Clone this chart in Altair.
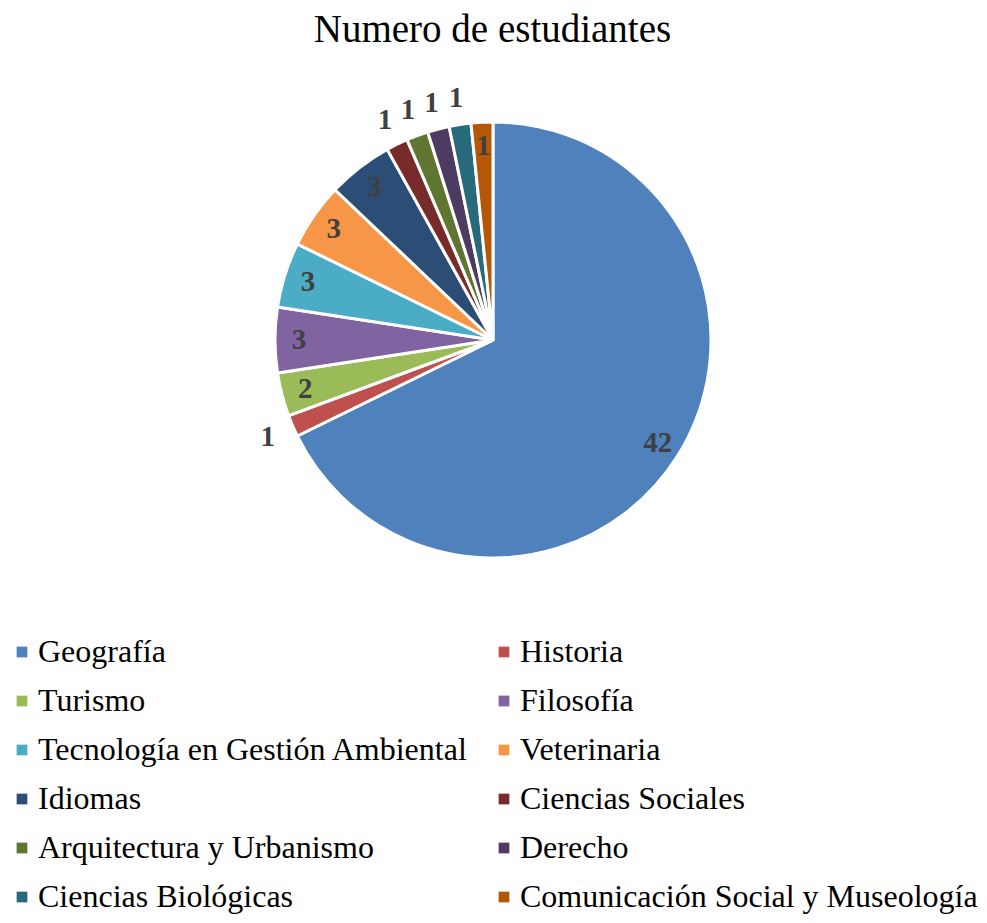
import json
import altair as alt
import pandas as pd

categories = [
    "Geografía", "Historia", "Turismo", "Filosofía",
    "Tecnología en Gestión Ambiental", "Veterinaria", "Idiomas",
    "Ciencias Sociales", "Arquitectura y Urbanismo", "Derecho",
    "Ciencias Biológicas", "Comunicación Social y Museología",
]
values = [42, 1, 2, 3, 3, 3, 3, 1, 1, 1, 1, 1]
colors = [
    "#4F81BD", "#C0504D", "#9BBB59", "#8064A2", "#4BACC6", "#F79646",
    "#2C4D75", "#772C2A", "#5F7530", "#4D3B62", "#276A7C", "#B65708",
]
# slices whose value label sits outside the pie
outside_labels = ["Historia", "Ciencias Sociales", "Arquitectura y Urbanismo",
                  "Derecho", "Ciencias Biológicas"]

df = pd.DataFrame({"Carrera": categories, "Estudiantes": values,
                   "orden": list(range(len(categories)))})

CX, CY = 485, 272
SERIF = "Liberation Serif"
out_arr = json.dumps(outside_labels, ensure_ascii=False)

base = alt.Chart(df).encode(
    theta=alt.Theta("Estudiantes:Q", stack=True),
    order=alt.Order("orden:Q", sort="ascending"),
    x=alt.value(CX),
    y=alt.value(CY),
)

pie = base.mark_arc(radius=218, stroke="white", strokeWidth=3).encode(
    color=alt.Color(
        "Carrera:N",
        sort=categories,
        scale=alt.Scale(domain=categories, range=colors),
        legend=alt.Legend(
            title=None, orient="none", legendX=-2, legendY=568,
            columns=2, direction="horizontal",
            symbolType="square", symbolSize=115, symbolStrokeWidth=0,
            labelFont=SERIF, labelFontSize=32, labelColor="#000000",
            labelLimit=0, labelOffset=0, columnPadding=19, rowPadding=17,
        ),
    )
)

text_style = dict(font=SERIF, fontSize=29, fontWeight="bold", color="#404040")

inside = base.mark_text(radius=194, **text_style).encode(
    text="lab_in:N"
).transform_calculate(
    lab_in=f"indexof({out_arr}, datum.Carrera) >= 0 ? '' : toString(datum.Estudiantes)"
)

outside = base.mark_text(radius=245, **text_style).encode(
    text="lab_out:N"
).transform_calculate(
    lab_out=f"indexof({out_arr}, datum.Carrera) >= 0 ? toString(datum.Estudiantes) : ''"
)

chart = alt.layer(pie, inside, outside).properties(
    width=971,
    height=847,
    padding={"top": 60, "left": 0, "right": 0, "bottom": 0},
    autosize=alt.AutoSizeParams(type="none"),
    title=alt.TitleParams(
        "Numero de estudiantes", font=SERIF, fontSize=39, fontWeight="normal",
        color="#000000", anchor="middle", frame="group", offset=18, dx=-1,
    ),
).configure_view(stroke=None)

chart.save("out.html", embed_options={"renderer": "svg", "actions": False})
